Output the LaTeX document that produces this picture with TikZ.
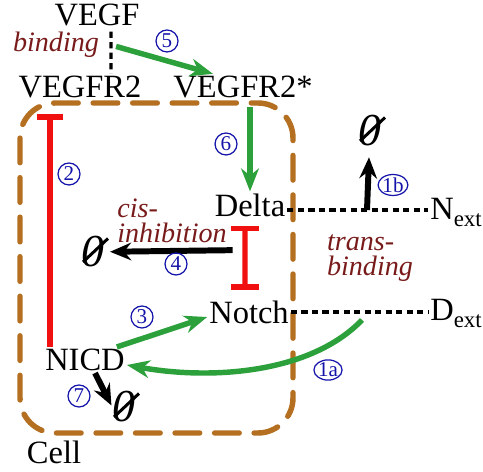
\documentclass[tikz,border=0pt]{standalone}
\usepackage{fontspec}
\setmainfont{Liberation Serif}
\usetikzlibrary{arrows.meta,shapes.geometric}
\definecolor{cellbrown}{RGB}{180,112,32}
\definecolor{actgreen}{RGB}{44,160,58}
\definecolor{inhred}{RGB}{240,16,16}
\definecolor{txtred}{RGB}{120,26,26}
\definecolor{numblue}{RGB}{20,20,170}
\newcommand{\nullslash}[1]{\draw[line width=1.7pt] ([shift={(-0.2cm,-0.2cm)}]#1.center) -- ([shift={(0.3cm,0.27cm)}]#1.center);}

\begin{document}
\begin{tikzpicture}[x=0.02cm,y=-0.02cm,
  species/.style={inner sep=1pt,font=\fontsize{18.5}{20}\selectfont},
  note/.style={inner sep=0pt,align=left,text=txtred,font=\fontsize{16}{14}\selectfont\itshape},
  num/.style={circle,draw=numblue,text=numblue,line width=0.7pt,inner sep=0pt,minimum size=12.5pt,font=\fontsize{12}{12}\selectfont},
  numlong/.style={num,ellipse,minimum width=15pt,minimum height=11.5pt},
  sink/.style={inner sep=0pt,font=\fontsize{26}{26}\selectfont\itshape},
  act/.style={draw=actgreen,line width=3.1pt,-{Stealth[length=13pt,width=10pt,inset=4pt]}},
  inh/.style={draw=inhred,line width=3.1pt,-{Bar[width=15pt]}},
  decay/.style={draw=black,line width=3.4pt,-{Stealth[length=12pt,width=10pt,inset=4pt]}},
  bond/.style={draw=black,line width=1.9pt,dash pattern=on 3.5pt off 2.5pt},
  cellwall/.style={draw=cellbrown,line width=3.1pt,line cap=round,dash pattern=on 14pt off 8.5pt,rounded corners=20pt}]
\useasboundingbox (0,0) rectangle (483,472);
% the cell
\draw[cellwall] (20,103) rectangle (293,433);
\node[species] (cell) at (54,452) {Cell};
% species
\node[species] (vegf) at (97,15) {VEGF};
\node[species] (vegfr) at (80,87) {VEGFR2};
\node[species] (vegfra) at (243,87) {VEGFR2*};
\node[species] (delta) at (250,205) {Delta};
\node[species] (notch) at (249,312) {Notch};
\node[species] (nicd) at (85,360) {NICD};
\node[species] (next) at (456,212) {N\raisebox{-4pt}{\fontsize{13}{13}\selectfont ext}};
\node[species] (dext) at (456,313) {D\raisebox{-4pt}{\fontsize{13}{13}\selectfont ext}};
% degradation sinks
\node[sink] (sinkb) at (370,131) {0};
\node[sink] (sinkc) at (93,252) {0};
\node[sink] (sinkd) at (124,407) {0};
\nullslash{sinkb}
\nullslash{sinkc}
\nullslash{sinkd}
% notes
\node[note] (bindnote) at (56,45) {binding};
\node[note] (cisnote) at (172,221) {cis-\\inhibition};
\node[note] (transnote) at (370,258) {trans-\\binding};
% free ends
\coordinate (cplx) at (111,45);
\coordinate (cis) at (245,250);
\coordinate (nbind) at (367,210);
\coordinate (dbind) at (362,320);
\coordinate (lx) at (50,0);
% connectors
\draw[bond,shorten <=2pt] ([xshift=0.28cm]vegf.south) -- ([xshift=0.62cm]vegfr.north);
\draw[act,shorten <=3pt] (cplx) -- ([xshift=-0.6cm]vegfra.north);
\draw[act,shorten <=4pt] (vegfra.south -| delta.north) -- (delta.north);
\draw[inh,shorten >=8pt] (nicd.north -| lx) -- (vegfr.south -| lx);
\draw[inh,{Bar[width=16pt]}-{Bar[width=16pt]},shorten <=4pt,shorten >=5pt] ([xshift=-0.1cm]delta.south) -- ([xshift=-0.08cm]notch.north);
\draw[decay,shorten <=7pt,shorten >=3pt] (cis) -- (sinkc);
\draw[bond] ([yshift=-0.1cm]delta.east) -- ([yshift=-0.1cm]next.west |- delta.east);
\draw[decay,shorten >=6pt] (nbind) -- (sinkb);
\draw[bond] (notch.east) -- (dext.west |- notch.east);
\draw[act] (dbind) .. controls (310,374) and (210,380) .. ([yshift=-0.1cm]nicd.east);
\draw[act] ([xshift=-0.2cm]nicd.north east) -- ([yshift=-0.1cm]notch.west);
\draw[decay,shorten >=1pt] ([xshift=0.2cm]nicd.south) -- (sinkd.west);
% reaction numbers
\node[num] (n5) at (167,41) {5};
\node[num] (n6) at (226,144) {6};
\node[num] (n2) at (69,174) {2};
\node[num] (n4) at (176,264) {4};
\node[numlong] (n1b) at (393,185) {1b};
\node[num] (n3) at (142,317) {3};
\node[numlong] (n1a) at (328,370) {1a};
\node[num] (n7) at (79,396) {7};
\end{tikzpicture}
\end{document}
